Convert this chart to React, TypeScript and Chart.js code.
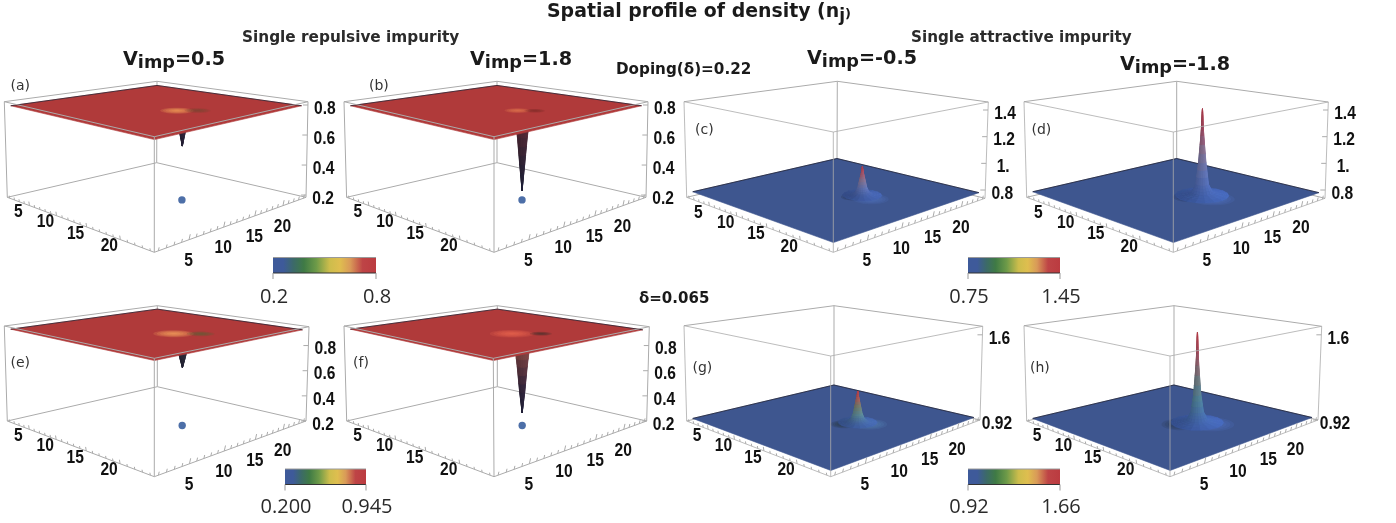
import React, { useEffect, useRef } from "react";
import { Chart, registerables } from "chart.js";

Chart.register(...registerables);

const W = 1396;
const H = 523;
const BOX = "#ababab";
const LINE_DARK = "rgba(30,30,45,0.75)";
const SOLID = [1000, 0];

// ---- axis tick labels
const gridTicks = [5, 10, 15, 20];
const zTicksAB = [0.8, 0.6, 0.4, 0.2];
const zLabelsAB = ["0.8", "0.6", "0.4", "0.2"];
const zTicksCD = [1.4, 1.2, 1.0, 0.8];
const zLabelsCD = ["1.4", "1.2", "1.", "0.8"];
const zTicksEF = [0.8, 0.6, 0.4, 0.2];
const zLabelsEF = ["0.8", "0.6", "0.4", "0.2"];
const zTicksGH = [1.6, 0.92];
const zLabelsGH = ["1.6", "0.92"];

// ---- radial density profile round the impurity (distance in sites, density n)
const radiusRepulsive = [0, 0.28, 0.55, 0.85, 1.2];
const densityA = [0.54, 0.62, 0.71, 0.78, 0.795];
const densityB = [0.247, 0.42, 0.6, 0.74, 0.795];
const densityE = [0.65, 0.72, 0.8, 0.88, 0.925];
const densityF = [0.3, 0.46, 0.66, 0.84, 0.925];
const radiusWeak = [0, 0.1, 0.28, 0.5, 0.78, 1.3, 2.2];
const densityC = [0.99, 0.95, 0.9, 0.84, 0.8, 0.785, 0.78];
const densityG = [1.18, 1.14, 1.08, 1.01, 0.965, 0.945, 0.94];
const radiusStrong = [0, 0.06, 0.16, 0.42, 0.72, 1.2, 2.3, 3];
const densityD = [1.42, 1.33, 1.22, 1.02, 0.86, 0.8, 0.785, 0.78];
const densityH = [1.64, 1.52, 1.38, 1.15, 1.02, 0.96, 0.945, 0.94];

// ---- colours along each spike: from plane (first) to extremum (last)
const rampA = ["#4a2c3a", "#33263a", "#221f33"];
const rampB = ["#7a3038", "#4a2733", "#2d2234", "#1e2038"];
const rampE = ["#4a3c3c", "#2e2c38", "#222233"];
const rampF = ["#a9664a", "#6a3a3e", "#35263a", "#1e2038"];
const rampC = ["#3e5aa0", "#5a6ca8", "#7d7090", "#a0566a", "#b23c4c"];
const rampD = ["#3f5ea8", "#5a6ca8", "#7d6f8e", "#96485f", "#a83a48"];
const rampG = ["#3f5ea0", "#55808f", "#6b7a6a", "#a05a58", "#b83c48"];
const rampH = ["#3f5ea8", "#4a7a90", "#6e7478", "#9a4f5f", "#b23a46"];

// ---- plane density level
const planeLevel = [0.795, 0.795, 0.78, 0.78, 0.925, 0.925, 0.94, 0.94];
const planeColors = ["#b03a3a", "#b03a3a", "#3e568f", "#3e568f", "#b03a3a", "#b03a3a", "#3e568f", "#3e568f"];

// ---- soft ripples on the plane: du, dv, radius, colour
const ripplesA: [number, number, number, string][] = [[0.9, -1.85, 1.8, "245,165,90"], [2.4, -0.25, 1.4, "120,70,50"]];
const ripplesB: [number, number, number, string][] = [[0.9, -1.75, 1.4, "230,125,80"], [2.3, -0.55, 1.1, "125,45,42"]];
const ripplesC: [number, number, number, string][] = [[-0.2, -1.2, 1.4, "28,38,62"], [1.65, -0.4, 2.0, "80,115,190"]];
const ripplesD: [number, number, number, string][] = [[-0.4, -1.4, 2.0, "28,40,70"], [1.85, -0.2, 2.4, "78,115,195"]];
const ripplesE: [number, number, number, string][] = [[-0.1, -1.3, 2.2, "250,170,95"], [2.0, 0.7, 1.5, "95,95,55"]];
const ripplesF: [number, number, number, string][] = [[-0.2, -1.4, 2.4, "240,105,80"], [2.0, 0.8, 1.2, "70,50,45"]];
const ripplesG: [number, number, number, string][] = [[-0.6, -1.6, 1.5, "40,55,60"], [1.4, 0.4, 2.0, "85,130,180"]];
const ripplesH: [number, number, number, string][] = [[-0.8, -1.8, 2.2, "40,55,75"], [1.6, 0.6, 2.6, "78,115,195"]];

// ---- colour bars
const barStops: [number, string][] = [
  [0, "#3e5a9a"], [0.1, "#3e5a9a"], [0.2, "#3c6a68"], [0.3, "#3f7a45"], [0.42, "#6d9a48"],
  [0.55, "#cdbd4c"], [0.65, "#dfbe4f"], [0.75, "#d99a58"], [0.87, "#be4446"], [1, "#bb3b40"],
];
const barLow = ["0.2", "0.75", "0.200", "0.92"];
const barHigh = ["0.8", "1.45", "0.945", "1.66"];
const barLeft = [273, 968, 285, 968];
const barRight = [376, 1060, 366, 1060];
const barTop = [257.5, 257.5, 469, 469];
const barLabelY = [297, 297, 507.5, 507.5];

type Pt = [number, number];
type Panel = {
  tag: string; tagAt: Pt; floor: Pt[]; top: Pt[]; zMin: number; zMax: number;
  site: Pt; radius: number[]; density: number[]; ramp: string[]; ripples: [number, number, number, string][];
  zT: number[]; zL: string[]; marker: boolean; dip: boolean;
};

// corners are listed left, front, right, back
const panels: Panel[] = [
  { tag: "(a)", tagAt: [10.5, 86], floor: [[7.3, 197.3], [154.3, 252.3], [306, 197.3], [156.7, 162.7]], top: [[4.3, 101.7], [154.3, 136.7], [308, 101.7], [157, 81.3]], zMin: 0.185, zMax: 0.822, site: [15.3, 13.85], radius: radiusRepulsive, density: densityA, ramp: rampA, ripples: ripplesA, zT: zTicksAB, zL: zLabelsAB, marker: true, dip: true },
  { tag: "(b)", tagAt: [369, 86], floor: [[346.6, 197.3], [494, 252.3], [646, 197.3], [497, 162.7]], top: [[344, 101.7], [494, 136.7], [648, 101.7], [497, 81.3]], zMin: 0.185, zMax: 0.822, site: [15.3, 13.85], radius: radiusRepulsive, density: densityB, ramp: rampB, ripples: ripplesB, zT: zTicksAB, zL: zLabelsAB, marker: true, dip: true },
  { tag: "(c)", tagAt: [695, 130], floor: [[686.7, 197.3], [833.3, 252.3], [985, 198.3], [837, 162]], top: [[684, 101.7], [833.3, 132], [988.3, 102], [837.3, 81.3]], zMin: 0.738, zMax: 1.46, site: [15.4, 13.85], radius: radiusWeak, density: densityC, ramp: rampC, ripples: ripplesC, zT: zTicksCD, zL: zLabelsCD, marker: false, dip: false },
  { tag: "(d)", tagAt: [1031.5, 130], floor: [[1026.7, 197.3], [1173.3, 252.3], [1325, 198.3], [1176.7, 162]], top: [[1024, 101.7], [1173.3, 132], [1328.3, 102], [1176.7, 81.3]], zMin: 0.738, zMax: 1.46, site: [15.4, 13.85], radius: radiusStrong, density: densityD, ramp: rampD, ripples: ripplesD, zT: zTicksCD, zL: zLabelsCD, marker: false, dip: false },
  { tag: "(e)", tagAt: [10.5, 363.5], floor: [[7.3, 421], [154.3, 476.7], [306, 421], [157.3, 386.7]], top: [[4.3, 326], [154.3, 358.3], [309, 326.7], [157.3, 305.7]], zMin: 0.2, zMax: 0.95, site: [15.8, 13.3], radius: radiusRepulsive, density: densityE, ramp: rampE, ripples: ripplesE, zT: zTicksEF, zL: zLabelsEF, marker: true, dip: true },
  { tag: "(f)", tagAt: [353, 363.5], floor: [[346.7, 421], [494, 476.7], [646.7, 421], [497.3, 386.7]], top: [[344, 326], [493.3, 358.3], [649.3, 326.7], [497.3, 305.7]], zMin: 0.2, zMax: 0.95, site: [15.8, 13.3], radius: radiusRepulsive, density: densityF, ramp: rampF, ripples: ripplesF, zT: zTicksEF, zL: zLabelsEF, marker: true, dip: true },
  { tag: "(g)", tagAt: [692.5, 368.5], floor: [[686.7, 421], [830.7, 476.7], [980, 420], [834, 386]], top: [[684, 325.7], [830.7, 356], [982.7, 326.3], [834, 305.7]], zMin: 0.92, zMax: 1.668, site: [15.7, 13.3], radius: radiusWeak, density: densityG, ramp: rampG, ripples: ripplesG, zT: zTicksGH, zL: zLabelsGH, marker: false, dip: false },
  { tag: "(h)", tagAt: [1030, 368.5], floor: [[1026.7, 421], [1170, 476.7], [1318, 420], [1174, 386]], top: [[1024, 325.7], [1170, 356], [1321.7, 326.3], [1174, 305.7]], zMin: 0.92, zMax: 1.668, site: [15.7, 13.3], radius: radiusStrong, density: densityH, ramp: rampH, ripples: ripplesH, zT: zTicksGH, zL: zLabelsGH, marker: false, dip: false },
];

// ---- headline texts
const vimpText = ["=0.5", "=1.8", "=-0.5", "=-1.8"];
const vimpAt: Pt[] = [[123, 65], [470, 65], [807, 64], [1120, 70]];

// ---------- projection helpers
function quadMap(q: Pt[]) {
  const [p00, p10, p11, p01] = q;
  const dx1 = p10[0] - p11[0], dx2 = p01[0] - p11[0], sx = p00[0] - p10[0] + p11[0] - p01[0];
  const dy1 = p10[1] - p11[1], dy2 = p01[1] - p11[1], sy = p00[1] - p10[1] + p11[1] - p01[1];
  const den = dx1 * dy2 - dx2 * dy1;
  const g = (sx * dy2 - dx2 * sy) / den;
  const h = (dx1 * sy - sx * dy1) / den;
  const a = p10[0] - p00[0] + g * p10[0], b = p01[0] - p00[0] + h * p01[0], c = p00[0];
  const d = p10[1] - p00[1] + g * p10[1], e = p01[1] - p00[1] + h * p01[1], f = p00[1];
  return (s: number, t: number): Pt => {
    const w = g * s + h * t + 1;
    return [(a * s + b * t + c) / w, (d * s + e * t + f) / w];
  };
}
const cell = (i: number) => (i - 0.5) / 24;

function hexRgb(hex: string): number[] {
  return [1, 3, 5].map((k) => parseInt(hex.slice(k, k + 2), 16));
}
function rampColor(ramp: string[], f: number, shade: number) {
  const p = Math.min(0.9999, Math.max(0, f)) * (ramp.length - 1);
  const i = Math.floor(p);
  const a = hexRgb(ramp[i]), b = hexRgb(ramp[i + 1]);
  const m = a.map((v, k) => Math.min(255, Math.round((v + (b[k] - v) * (p - i)) * shade)));
  return `rgb(${m[0]},${m[1]},${m[2]})`;
}

type TextItem = { t: string; x: number; y: number; font: string; color: string; sx?: number; align?: CanvasTextAlign };

function buildPanel(pn: Panel, index: number, out: any[], texts: TextItem[]) {
  const fm = quadMap(pn.floor), tm = quadMap(pn.top);
  const P = (u: number, v: number, z: number): Pt => {
    const a = fm(cell(u), cell(v)), b = tm(cell(u), cell(v));
    const k = (z - pn.zMin) / (pn.zMax - pn.zMin);
    return [a[0] + (b[0] - a[0]) * k, a[1] + (b[1] - a[1]) * k];
  };
  const xy = (p: Pt) => ({ x: p[0], y: p[1] });
  const gap = { x: NaN, y: NaN };
  const [fl, ff, fr, fb] = pn.floor;
  const [tl, tf, tr, tb] = pn.top;
  const lines = (pts: any[], color: string, width = 1) =>
    out.push({ data: pts, showLine: true, fill: false, borderColor: color, borderWidth: width, borderDash: SOLID, pointRadius: 0, spanGaps: false });
  const poly = (pts: Pt[], color: string, border = 0.6) =>
    out.push({
      data: [...pts, pts[0]].map(xy), showLine: true, fill: "shape", backgroundColor: color,
      borderColor: color, borderWidth: border, borderDash: SOLID, pointRadius: 0,
    });

  // back of the box
  lines([xy(tl), xy(tb), xy(tr), gap, xy(fl), xy(fb), xy(fr), gap, xy(tb), xy(fb)], BOX);
  if (pn.marker) {
    out.push({ data: [xy(P(pn.site[0], pn.site[1], pn.zMin))], showLine: false, pointRadius: 3.7, pointBackgroundColor: "#4d6fa8", pointBorderWidth: 0 });
  }

  const level = planeLevel[index];
  const spike = () => {
    const quads: { q: Pt[]; d: number; c: string }[] = [];
    const N = 18, SUB = 3;
    const extreme = pn.density[0];
    const rad = (k: number) => {
      const i = Math.min(pn.radius.length - 2, Math.floor(k / SUB));
      const f = k / SUB - i;
      return [pn.radius[i] + (pn.radius[i + 1] - pn.radius[i]) * f, pn.density[i] + (pn.density[i + 1] - pn.density[i]) * f];
    };
    for (let k = 0; k < (pn.radius.length - 1) * SUB; k++) {
      const [r0, z0] = rad(k);
      const [r1, z1] = rad(k + 1);
      for (let a = 0; a < N; a++) {
        const a0 = (a / N) * 2 * Math.PI, a1 = ((a + 1) / N) * 2 * Math.PI;
        const am = (a0 + a1) / 2;
        const u = pn.site[0], v = pn.site[1];
        const q: Pt[] = [
          P(u + r0 * Math.cos(a0), v + r0 * Math.sin(a0), z0),
          P(u + r1 * Math.cos(a0), v + r1 * Math.sin(a0), z1),
          P(u + r1 * Math.cos(a1), v + r1 * Math.sin(a1), z1),
          P(u + r0 * Math.cos(a1), v + r0 * Math.sin(a1), z0),
        ];
        const rm = (r0 + r1) / 2;
        const depth = fm(cell(u + rm * Math.cos(am)), cell(v + rm * Math.sin(am)))[1];
        const frac = ((z0 + z1) / 2 - level) / (extreme - level);
        const dir = (Math.cos(am) + Math.sin(am)) / 1.414;
        const shade = pn.dip ? 1 + 0.1 * dir : 1 + 0.15 * dir * (1 - frac * 0.5);
        quads.push({ q, d: depth, c: rampColor(pn.ramp, frac, shade) });
      }
    }
    quads.sort((m, n) => m.d - n.d);
    quads.forEach((o) => poly(o.q, o.c, 0.4));
  };

  if (pn.dip) spike();
  // flat sheet of density
  const sheet: Pt[] = [P(1, 1, level), P(24, 1, level), P(24, 24, level), P(1, 24, level)];
  poly(sheet, planeColors[index]);
  lines([xy(sheet[0]), xy(sheet[3]), xy(sheet[2])], LINE_DARK);
  // ripples
  pn.ripples.forEach(([du, dv, r, c]) => {
    for (let l = 6; l >= 1; l--) {
      const rr = (r * l) / 6;
      const ring: Pt[] = [];
      for (let a = 0; a < 20; a++) {
        const t = (a / 20) * 2 * Math.PI;
        ring.push(P(pn.site[0] + du + rr * Math.cos(t), pn.site[1] + dv + rr * Math.sin(t), level));
      }
      poly(ring, `rgba(${c},0.2)`, 0);
    }
  });
  if (!pn.dip) spike();

  // front of the box
  lines([xy(tl), xy(tf), xy(tr), gap, xy(tl), xy(fl), xy(ff), xy(fr), xy(tr), gap, xy(tf), xy(ff)], pn.dip ? BOX : "rgba(171,171,171,0.8)");

  // small ticks on the floor edges
  const ticks: any[] = [];
  for (let g = 1; g <= 24; g++) {
    const major = g % 5 === 0;
    const a = fm(1, cell(g));
    ticks.push(xy(a), { x: a[0] + (major ? 1.2 : 0.8), y: a[1] - (major ? 5.5 : 3.5) }, gap);
    const b = fm(cell(g), 0);
    ticks.push(xy(b), { x: b[0] - (major ? 0.6 : 0.4), y: b[1] - (major ? 4 : 2.5) }, gap);
  }
  pn.zT.forEach((z) => {
    const k = (z - pn.zMin) / (pn.zMax - pn.zMin);
    const x = fr[0] + (tr[0] - fr[0]) * k, y = fr[1] + (tr[1] - fr[1]) * k;
    ticks.push({ x, y }, { x: x - 5, y }, gap);
  });
  lines(ticks, BOX);

  // tick labels
  const labelFont = "bold 19px 'Liberation Sans'";
  gridTicks.forEach((g) => {
    const a = fm(cell(g), 0);
    texts.push({ t: String(g), x: a[0] - 11, y: a[1] + 6.5, font: labelFont, color: "#111", sx: 0.82 });
    const b = fm(1, cell(g));
    texts.push({ t: String(g), x: b[0] - 0.5, y: b[1] + 21, font: labelFont, color: "#111", sx: 0.82 });
  });
  pn.zT.forEach((z, i) => {
    const k = (z - pn.zMin) / (pn.zMax - pn.zMin);
    const x = fr[0] + (tr[0] - fr[0]) * k, y = fr[1] + (tr[1] - fr[1]) * k;
    texts.push({ t: pn.zL[i], x: x + 17, y: y + 3.5, font: labelFont, color: "#111", sx: 0.82 });
  });
  texts.push({ t: pn.tag, x: pn.tagAt[0], y: pn.tagAt[1], font: "14px 'DejaVu Sans'", color: "#333", align: "left" });
}

function App() {
  const ref = useRef<HTMLCanvasElement>(null);
  useEffect(() => {
    const canvas = ref.current!;
    const ctx = canvas.getContext("2d")!;
    const out: any[] = [];
    const texts: TextItem[] = [];
    panels.forEach((p, i) => buildPanel(p, i, out, texts));

    // colour bars
    barLeft.forEach((x0, i) => {
      const x1 = barRight[i], y0 = barTop[i], y1 = y0 + 15.5;
      const grad = ctx.createLinearGradient(x0, 0, x1, 0);
      barStops.forEach(([s, c]) => grad.addColorStop(s, c));
      const pts = [{ x: x0, y: y0 }, { x: x1, y: y0 }, { x: x1, y: y1 }, { x: x0, y: y1 }, { x: x0, y: y0 }];
      out.push({ data: pts, showLine: true, fill: "shape", backgroundColor: grad, borderWidth: 0, borderDash: SOLID, pointRadius: 0 });
      out.push({ data: [{ x: x0, y: y0 }, { x: x1, y: y0 }], showLine: true, fill: false, borderColor: "#9a9a9a", borderWidth: 1, pointRadius: 0 });
      out.push({ data: [{ x: x0, y: y1 }, { x: x1, y: y1 }], showLine: true, fill: false, borderColor: "#333", borderWidth: 1, pointRadius: 0 });
      out.push({ data: [{ x: x0, y: y1 }, { x: x0, y: y1 + 6 }, { x: NaN, y: NaN }, { x: x1, y: y1 }, { x: x1, y: y1 + 6 }], showLine: true, fill: false, borderColor: "#999", borderWidth: 1, borderDash: SOLID, pointRadius: 0, spanGaps: false });
      const bf = "20px 'Open Sans'";
      texts.push({ t: barLow[i], x: x0 + 1, y: barLabelY[i], font: bf, color: "#2a2a2a" });
      texts.push({ t: barHigh[i], x: x1 + 1, y: barLabelY[i], font: bf, color: "#2a2a2a" });
    });

    const bold = (n: number) => `bold ${n}px 'DejaVu Sans'`;
    const headlinePlugin = {
      id: "headlines",
      afterDraw(chart: any) {
        const c: CanvasRenderingContext2D = chart.ctx;
        c.save();
        const put = (s: string, x: number, y: number, font: string, color = "#1a1a1a") => {
          c.font = font; c.fillStyle = color; c.textAlign = "left"; c.textBaseline = "alphabetic";
          c.fillText(s, x, y);
          return x + c.measureText(s).width;
        };
        let x = put("Spatial profile of density (n", 547, 17, bold(18.9));
        x = put("j", x, 21, bold(17));
        put(")", x, 18, bold(13));
        put("Single repulsive impurity", 242, 42, bold(15.3), "#2b2b2b");
        put("Single attractive impurity", 911, 42, bold(15.2), "#2b2b2b");
        put("Doping(δ)=0.22", 616, 74, bold(15.2));
        put("δ=0.065", 639, 303, bold(15));
        vimpAt.forEach(([vx, vy], i) => {
          let p = put("V", vx, vy, bold(19.2));
          p = put("imp", p, vy + 3, bold(17.7));
          put(vimpText[i], p, vy, bold(19.2));
        });
        texts.forEach((o) => {
          c.save();
          c.font = o.font; c.fillStyle = o.color;
          c.textAlign = o.align ?? "center";
          c.textBaseline = "middle";
          c.translate(o.x, o.y);
          c.scale(o.sx ?? 1, 1);
          c.fillText(o.t, 0, 0);
          c.restore();
        });
        c.restore();
      },
    };

    const chart = new Chart(canvas, {
      type: "scatter",
      // Chart.js paints the first dataset last, so paint order is reversed here
      data: { datasets: out.slice().reverse() },
      options: {
        animation: false,
        responsive: false,
        devicePixelRatio: 1,
        events: [],
        layout: { padding: 0, autoPadding: false },
        plugins: { legend: { display: false }, tooltip: { enabled: false }, title: { display: false } },
        scales: {
          x: { type: "linear", min: 0, max: W, display: false },
          y: { type: "linear", min: 0, max: H, reverse: true, display: false },
        },
      } as any,
      plugins: [headlinePlugin],
    } as any);
    return () => chart.destroy();
  }, []);
  return (
    <div style={{ position: "fixed", left: 0, top: 0, width: W, height: H, background: "#fff" }}>
      <canvas ref={ref} width={W} height={H} style={{ display: "block" }} />
    </div>
  );
}

export default App;
